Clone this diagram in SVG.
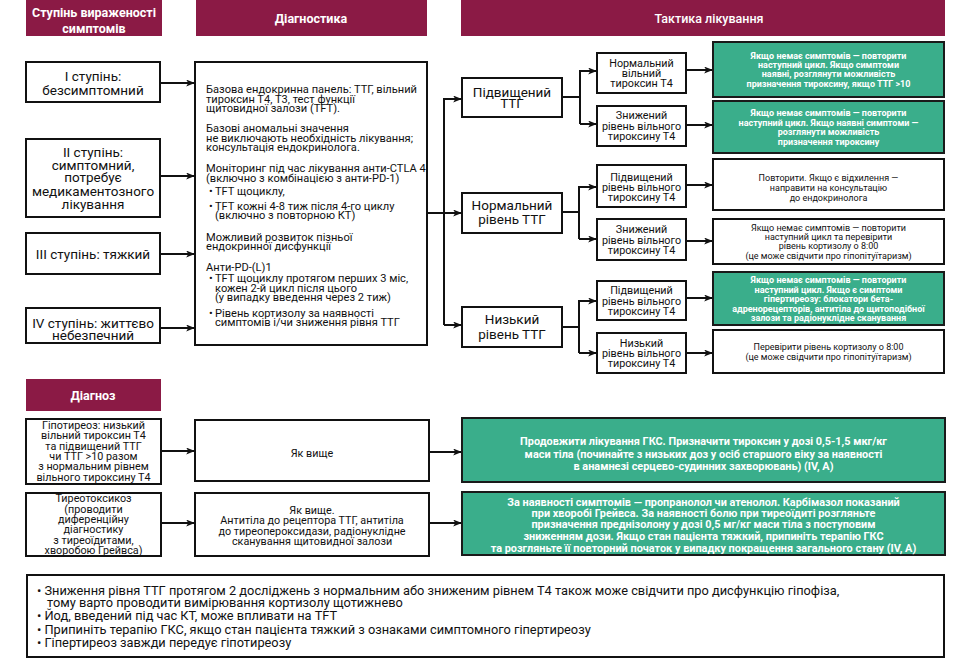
<svg xmlns="http://www.w3.org/2000/svg" width="976" height="662" viewBox="0 0 976 662">
<defs>
<style>
text{font-family:Roboto,"Liberation Sans",sans-serif;fill:#111;}
.hd{fill:#8B1A45;}
.ht{fill:#fff;font-weight:bold;font-size:12.5px;text-anchor:middle;}
.bx{fill:#fff;stroke:#111;stroke-width:2;}
.gb{fill:#3AAE8B;stroke:#1a1a1a;stroke-width:2;}
.c{text-anchor:middle;}
.t13{font-size:13.5px;}
.t11{font-size:10.8px;}
.t10{font-size:9px;}
.g{fill:#fff;font-weight:bold;font-size:9px;text-anchor:middle;}
.g2{fill:#fff;font-weight:bold;font-size:10.9px;text-anchor:middle;}
.dg{font-size:10.8px;}
.dx{font-size:11.1px;}
.nt{font-size:12.8px;}
.ln{fill:none;stroke:#111;stroke-width:2;}
</style>
<marker id="ah" viewBox="0 0 10 8" refX="9" refY="4" markerWidth="9" markerHeight="7" markerUnits="userSpaceOnUse" orient="auto">
<path d="M0,0 L10,4 L0,8 L2.5,4 z" fill="#111"/>
</marker>
</defs>
<rect width="976" height="662" fill="#fff"/>

<g id="headers">
<rect class="hd" x="26" y="0" width="136" height="36"/>
<text class="ht" x="94" y="17">Ступінь вираженості</text>
<text class="ht" x="94" y="33">симптомів</text>
<rect class="hd" x="196" y="0" width="231" height="36"/>
<text class="ht" x="311" y="23">Діагностика</text>
<rect class="hd" x="461" y="0" width="484" height="36"/>
<text class="ht" x="709" y="23" style="font-weight:500">Тактика лікування</text>
<rect class="hd" x="26" y="379" width="135" height="32"/>
<text class="ht" x="93" y="400">Діагноз</text>
</g>

<g id="grade1">
<rect class="bx" x="26" y="62" width="134" height="40"/>
<text class="c t13" x="93" y="81">I ступінь:</text>
<text class="c t13" x="93" y="95">безсимптомний</text>
</g>
<g id="grade2">
<rect class="bx" x="26" y="139" width="134" height="78"/>
<text class="c t13" x="93" y="157">II ступінь:</text>
<text class="c t13" x="93" y="169.5">симптомний,</text>
<text class="c t13" x="93" y="182">потребує</text>
<text class="c t13" x="93" y="196">медикаментозного</text>
<text class="c t13" x="93" y="209">лікування</text>
</g>
<g id="grade3">
<rect class="bx" x="26" y="233" width="134" height="41"/>
<text class="c t13" x="93" y="259">III ступінь: тяжкий</text>
</g>
<g id="grade4">
<rect class="bx" x="26" y="308" width="134" height="35"/>
<text class="c t13" x="93" y="328">IV ступінь: життєво</text>
<text class="c t13" x="93" y="340">небезпечний</text>
</g>

<g id="diagnostics">
<rect class="bx" x="195" y="62" width="232" height="283"/>
<g class="dx">
<text x="206" y="93">Базова ендокринна панель: ТТГ, вільний</text>
<text x="206" y="102.5">тироксин Т4, Т3, тест функції</text>
<text x="206" y="112">щитовидної залози (TFT).</text>
<text x="206" y="132">Базові аномальні значення</text>
<text x="206" y="141.5">не виключають необхідність лікування;</text>
<text x="206" y="151">консультація ендокринолога.</text>
<text x="206" y="172">Моніторинг під час лікування анти-CTLA 4</text>
<text x="206" y="182">(включно з комбінацією з анти-PD-1)</text>
<text x="209" y="195">•</text><text x="215" y="195">TFT щоциклу,</text>
<text x="209" y="209.5">•</text><text x="215" y="209.5">TFT кожні 4-8 тиж після 4-го циклу</text>
<text x="215" y="219">(включно з повторною КТ)</text>
<text x="206" y="240.5">Можливий розвиток пізньої</text>
<text x="206" y="250">ендокринної дисфункції</text>
<text x="206" y="270.5">Анти-PD-(L)1</text>
<text x="209" y="282">•</text><text x="215" y="282">TFT щоциклу протягом перших 3 міс,</text>
<text x="215" y="291.5">кожен 2-й цикл після цього</text>
<text x="215" y="301">(у випадку введення через 2 тиж)</text>
<text x="209" y="316.5">•</text><text x="215" y="316.5">Рівень кортизолу за наявності</text>
<text x="215" y="326">симптомів і/чи зниження рівня ТТГ</text>
</g>
</g>

<g id="tsh-high">
<rect class="bx" x="462" y="78" width="100" height="39"/>
<text class="c t13" x="512" y="97">Підвищений</text>
<text class="c t13" x="512" y="108">ТТГ</text>
</g>
<g id="tsh-normal">
<rect class="bx" x="462" y="193" width="100" height="40"/>
<text class="c t13" x="512" y="210">Нормальний</text>
<text class="c t13" x="512" y="224">рівень ТТГ</text>
</g>
<g id="tsh-low">
<rect class="bx" x="462" y="307" width="100" height="40"/>
<text class="c t13" x="512" y="324">Низький</text>
<text class="c t13" x="512" y="339">рівень ТТГ</text>
</g>

<g id="a1">
<rect class="bx" x="597" y="53" width="89" height="40"/>
<text class="c t11" x="641.5" y="67">Нормальний</text>
<text class="c t11" x="641.5" y="76.5">вільний</text>
<text class="c t11" x="641.5" y="86.5">тироксин Т4</text>
</g>
<g id="a2">
<rect class="bx" x="597" y="106" width="89" height="40"/>
<text class="c t11" x="641.5" y="119">Знижений</text>
<text class="c t11" x="641.5" y="129.5">рівень вільного</text>
<text class="c t11" x="641.5" y="140">тироксину Т4</text>
</g>
<g id="b1">
<rect class="bx" x="597" y="165" width="89" height="42"/>
<text class="c t11" x="641.5" y="180.5">Підвищений</text>
<text class="c t11" x="641.5" y="191">рівень вільного</text>
<text class="c t11" x="641.5" y="201">тироксину Т4</text>
</g>
<g id="b2">
<rect class="bx" x="597" y="219" width="89" height="41"/>
<text class="c t11" x="641.5" y="233">Знижений</text>
<text class="c t11" x="641.5" y="243.5">рівень вільного</text>
<text class="c t11" x="641.5" y="254">тироксину Т4</text>
</g>
<g id="c1">
<rect class="bx" x="597" y="281" width="89" height="39"/>
<text class="c t11" x="641.5" y="294">Підвищений</text>
<text class="c t11" x="641.5" y="304.5">рівень вільного</text>
<text class="c t11" x="641.5" y="315">тироксину Т4</text>
</g>
<g id="c2">
<rect class="bx" x="597" y="333" width="89" height="40"/>
<text class="c t11" x="641.5" y="346.5">Низький</text>
<text class="c t11" x="641.5" y="357">рівень вільного</text>
<text class="c t11" x="641.5" y="367">тироксину Т4</text>
</g>

<g id="r1">
<rect class="gb" x="713" y="42" width="231" height="55"/>
<text class="g" x="828.5" y="59">Якщо немає симптомів — повторити</text>
<text class="g" x="828.5" y="68">наступний цикл. Якщо симптоми</text>
<text class="g" x="828.5" y="77">наявні, розглянути можливість</text>
<text class="g" x="828.5" y="86.5">призначення тироксину, якщо ТТГ &gt;10</text>
</g>
<g id="r2">
<rect class="gb" x="713" y="101" width="231" height="52"/>
<text class="g" x="828.5" y="116">Якщо немає симптомів — повторити</text>
<text class="g" x="828.5" y="125.5">наступний цикл. Якщо наявні симптоми —</text>
<text class="g" x="828.5" y="135">розглянути можливість</text>
<text class="g" x="828.5" y="145">призначення тироксину</text>
</g>
<g id="r3">
<rect class="bx" x="713" y="159" width="231" height="51"/>
<text class="c t10" x="828.5" y="181">Повторити. Якщо є відхилення —</text>
<text class="c t10" x="828.5" y="191">направити на консультацію</text>
<text class="c t10" x="828.5" y="200.5">до ендокринолога</text>
</g>
<g id="r4">
<rect class="bx" x="713" y="219" width="231" height="45"/>
<text class="c t10" x="828.5" y="231">Якщо немає симптомів — повторити</text>
<text class="c t10" x="828.5" y="240">наступний цикл та перевірити</text>
<text class="c t10" x="828.5" y="249">рівень кортизолу о 8:00</text>
<text class="c t10" x="828.5" y="258.5">(це може свідчити про гіпопітуїтаризм)</text>
</g>
<g id="r5">
<rect class="gb" x="713" y="272" width="231" height="53"/>
<text class="g" x="828.5" y="283">Якщо немає симптомів — повторити</text>
<text class="g" x="828.5" y="293">наступний цикл. Якщо є симптоми</text>
<text class="g" x="828.5" y="302">гіпертиреозу: блокатори бета-</text>
<text class="g" x="828.5" y="312">адренорецепторів, антитіла до щитоподібної</text>
<text class="g" x="828.5" y="321">залози та радіонуклідне сканування</text>
</g>
<g id="r6">
<rect class="bx" x="713" y="330" width="231" height="43"/>
<text class="c t10" x="828.5" y="350">Перевірити рівень кортизолу о 8:00</text>
<text class="c t10" x="828.5" y="360">(це може свідчити про гіпопітуїтаризм)</text>
</g>

<g id="hypo">
<rect class="bx" x="26" y="419" width="135" height="65"/>
<text class="c dg" x="93.5" y="429">Гіпотиреоз: низький</text>
<text class="c dg" x="93.5" y="439">вільний тироксин Т4</text>
<text class="c dg" x="93.5" y="449.5">та підвищений ТТГ</text>
<text class="c dg" x="93.5" y="460">чи ТТГ &gt;10 разом</text>
<text class="c dg" x="93.5" y="470">з нормальним рівнем</text>
<text class="c dg" x="93.5" y="480.5">вільного тироксину Т4</text>
</g>
<g id="thyro">
<rect class="bx" x="26" y="493" width="135" height="63"/>
<text class="c dg" x="93.5" y="502">Тиреотоксикоз</text>
<text class="c dg" x="93.5" y="512.5">(проводити</text>
<text class="c dg" x="93.5" y="523">диференційну</text>
<text class="c dg" x="93.5" y="533">діагностику</text>
<text class="c dg" x="93.5" y="543.5">з тиреоїдитами,</text>
<text class="c dg" x="93.5" y="554">хворобою Грейвса)</text>
</g>
<g id="same1">
<rect class="bx" x="195" y="420" width="234" height="61"/>
<text class="c dg" x="312" y="457">Як вище</text>
</g>
<g id="same2">
<rect class="bx" x="195" y="493" width="234" height="63"/>
<text class="c dg" x="312" y="514">Як вище.</text>
<text class="c dg" x="312" y="524">Антитіла до рецептора ТТГ, антитіла</text>
<text class="c dg" x="312" y="534.5">до тиреопероксидази, радіонуклідне</text>
<text class="c dg" x="312" y="545">сканування щитовидної залози</text>
</g>
<g id="g1">
<rect class="gb" x="462" y="418" width="483" height="64"/>
<text class="g2" x="703.5" y="445">Продовжити лікування ГКС. Призначити тироксин у дозі 0,5-1,5 мкг/кг</text>
<text class="g2" x="703.5" y="457.5">маси тіла (починайте з низьких доз у осіб старшого віку за наявності</text>
<text class="g2" x="703.5" y="470">в анамнезі серцево-судинних захворювань) (IV, A)</text>
</g>
<g id="g2">
<rect class="gb" x="462" y="492" width="483" height="63"/>
<text class="g2" x="703.5" y="505.5">За наявності симптомів — пропранолол чи атенолол. Карбімазол показаний</text>
<text class="g2" x="703.5" y="517">при хворобі Грейвса. За наявності болю при тиреоїдиті розгляньте</text>
<text class="g2" x="703.5" y="528">призначення преднізолону у дозі 0,5 мг/кг маси тіла з поступовим</text>
<text class="g2" x="703.5" y="539.5">зниженням дози. Якщо стан пацієнта тяжкий, припиніть терапію ГКС</text>
<text class="g2" x="703.5" y="551.5">та розгляньте її повторний початок у випадку покращення загального стану (IV, A)</text>
</g>

<g id="notes">
<rect class="bx" x="27" y="575" width="917" height="82"/>
<text class="nt" x="37" y="595">• Зниження рівня ТТГ протягом 2 досліджень з нормальним або зниженим рівнем Т4 також може свідчити про дисфункцію гіпофіза,</text>
<text class="nt" x="47" y="607">тому варто проводити вимірювання кортизолу щотижнево</text>
<text class="nt" x="37" y="620">• Йод, введений під час КТ, може впливати на TFT</text>
<text class="nt" x="37" y="634">• Припиніть терапію ГКС, якщо стан пацієнта тяжкий з ознаками симптомного гіпертиреозу</text>
<text class="nt" x="37" y="647">• Гіпертиреоз завжди передує гіпотиреозу</text>
</g>

<g id="connectors" class="ln">
<path d="M160,83H194" marker-end="url(#ah)"/>
<path d="M160,176H194" marker-end="url(#ah)"/>
<path d="M160,254H194" marker-end="url(#ah)"/>
<path d="M160,328H194" marker-end="url(#ah)"/>
<path d="M444,325V99H461" marker-end="url(#ah)"/>
<path d="M444,325H461" marker-end="url(#ah)"/>
<path d="M427,213H461" marker-end="url(#ah)"/>
<path d="M562,97H580"/>
<path d="M580,124V71H596" marker-end="url(#ah)"/>
<path d="M580,124H596" marker-end="url(#ah)"/>
<path d="M562,212H579"/>
<path d="M579,239V187H596" marker-end="url(#ah)"/>
<path d="M579,239H596" marker-end="url(#ah)"/>
<path d="M562,327H579"/>
<path d="M579,353V301H596" marker-end="url(#ah)"/>
<path d="M579,353H596" marker-end="url(#ah)"/>
<path d="M686,70H712" marker-end="url(#ah)"/>
<path d="M686,125H712" marker-end="url(#ah)"/>
<path d="M686,185H712" marker-end="url(#ah)"/>
<path d="M686,241H712" marker-end="url(#ah)"/>
<path d="M686,298H712" marker-end="url(#ah)"/>
<path d="M686,353H712" marker-end="url(#ah)"/>
<path d="M161,451H194" marker-end="url(#ah)"/>
<path d="M161,523H194" marker-end="url(#ah)"/>
<path d="M429,452H461" marker-end="url(#ah)"/>
<path d="M429,523H461" marker-end="url(#ah)"/>
</g>
</svg>
